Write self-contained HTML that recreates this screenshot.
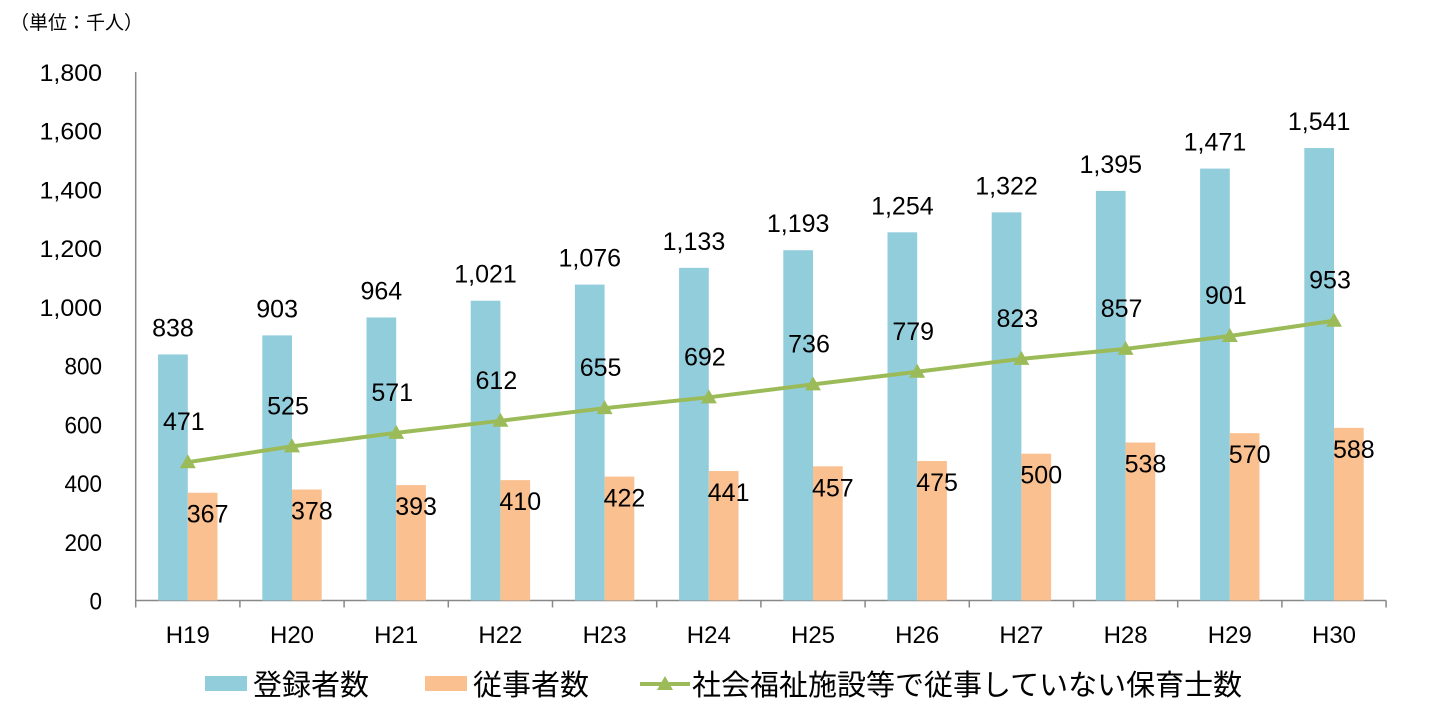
<!DOCTYPE html>
<html><head><meta charset="utf-8"><style>
body{margin:0;background:#fff;}
svg text{font-family:"Liberation Sans","Noto Sans CJK JP",sans-serif;fill:#000;}
</style></head><body>
<svg width="1452" height="702" viewBox="0 0 1452 702">
<text x="10" y="29" font-size="19">（単位：千人）</text>
<g id="g"></g>
</svg>
<script>
const categories=["H19","H20","H21","H22","H23","H24","H25","H26","H27","H28","H29","H30"];
const registered=[838,903,964,1021,1076,1133,1193,1254,1322,1395,1471,1541];
const employed=[367,378,393,410,422,441,457,475,500,538,570,588];
const notEmployed=[471,525,571,612,655,692,736,779,823,857,901,953];
const yTicks=[0,200,400,600,800,1000,1200,1400,1600,1800];
const NS="http://www.w3.org/2000/svg";
const g=document.getElementById('g');
const x0=135.7,cw=104.2,y0=600.5,yTop=72;
const y=v=>y0-(v/1800)*(y0-yTop);
const cx=i=>x0+cw*i+cw/2;
function el(t,a,txt){const e=document.createElementNS(NS,t);for(const k in a)e.setAttribute(k,a[k]);if(txt!=null)e.textContent=txt;g.appendChild(e);return e;}
const fmt=v=>v.toLocaleString('en-US');
yTicks.forEach(v=>{const t=el('text',{x:102,y:y(v)+9,'font-size':24,'text-anchor':'end',textLength:(fmt(v).length*12.5),lengthAdjust:'spacingAndGlyphs'},fmt(v));

});
const ya=el('line',{x1:x0,y1:yTop,x2:x0,y2:y0,stroke:'#888','stroke-width':1.5});


const xa=el('line',{x1:x0,y1:y0,x2:x0+cw*12,y2:y0,stroke:'#888','stroke-width':1.5});


for(let i=0;i<=12;i++){el('line',{x1:x0+cw*i,y1:y0,x2:x0+cw*i,y2:y0+7,stroke:'#888','stroke-width':1.5});}
const bw=29.7;
categories.forEach((c,i)=>{
 const b=el('rect',{x:cx(i)-bw,y:y(registered[i]),width:bw,height:y0-y(registered[i]),fill:'#92CDDC'});
 
 
 const o=el('rect',{x:cx(i),y:y(employed[i]),width:bw,height:y0-y(employed[i]),fill:'#FAC090'});
 
 
 const l1=el('text',{x:cx(i)-bw/2,y:y(registered[i])-18,'font-size':25,'text-anchor':'middle'},fmt(registered[i]));
 
 
 const l2=el('text',{x:cx(i)+bw/2+5,y:y(employed[i])+30,'font-size':25,'text-anchor':'middle'},fmt(employed[i]));
 
 
 const xl=el('text',{x:cx(i),y:643,'font-size':24,'text-anchor':'middle'},c);
 
 
});
const pts=notEmployed.map((v,i)=>cx(i)+','+y(v)).join(' ');
const pl=el('polyline',{points:pts,fill:'none',stroke:'#9BBB59','stroke-width':4});


notEmployed.forEach((v,i)=>{
 const px=cx(i),py=y(v);
 const m=el('polygon',{points:`${px},${py-8} ${px-8},${py+6} ${px+8},${py+6}`,fill:'#9BBB59'});
 
 
 const t=el('text',{x:px-4,y:py-32,'font-size':25,'text-anchor':'middle'},fmt(v));
 
 
});
const lg=[[205,'#92CDDC','登録者数','legend-registered'],[425,'#FAC090','従事者数','legend-employed']];
lg.forEach(a=>{
 const r=el('rect',{x:a[0],y:676,width:42,height:15,fill:a[1]});
 
 
 const t=el('text',{x:a[0]+48,y:695,'font-size':29},a[2]);
 
 
});
el('line',{x1:640,y1:684,x2:690,y2:684,stroke:'#9BBB59','stroke-width':4});
el('polygon',{points:'665,676 657,690 673,690',fill:'#9BBB59'});
const t3=el('text',{x:692,y:695,'font-size':29},'社会福祉施設等で従事していない保育士数');


</script>
</body></html>
